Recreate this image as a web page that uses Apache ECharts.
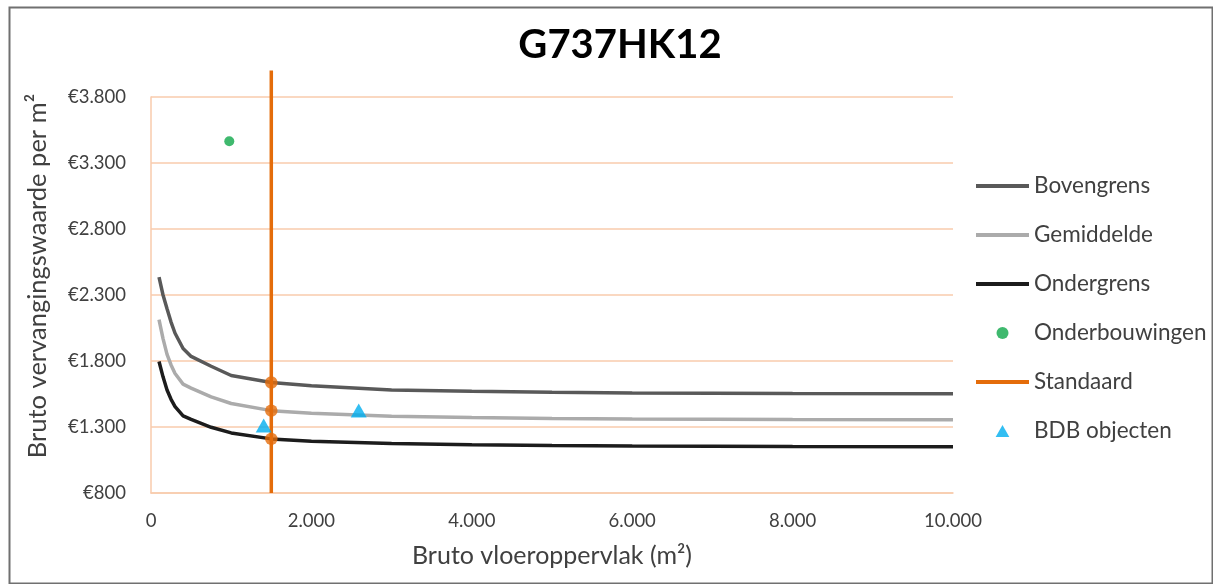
<!DOCTYPE html>
<html>
<head>
<meta charset="utf-8">
<script src="https://cdn.jsdelivr.net/npm/echarts@6/dist/echarts.min.js"></script>
<style>
  html, body { margin: 0; padding: 0; background: #fff; }
  #chart { width: 1213px; height: 584px; }
</style>
</head>
<body>
<div id="chart"></div>
<script>
// Data
const titleText = 'G737HK12';
const xValues = [100, 150, 200, 250, 300, 400, 500, 750, 1000, 1500, 2000, 3000, 4000, 5000, 6000, 8000, 10000];
const bovengrens = [2436, 2300, 2195, 2095, 2010, 1895, 1835, 1760, 1690, 1637, 1612, 1580, 1570, 1563, 1558, 1554, 1551];
const gemiddelde = [2113, 1970, 1850, 1770, 1705, 1625, 1595, 1528, 1478, 1424, 1405, 1382, 1372, 1365, 1360, 1356, 1354];
const ondergrens = [1796, 1680, 1580, 1510, 1455, 1385, 1358, 1298, 1255, 1210, 1192, 1175, 1166, 1160, 1157, 1153, 1151];
const onderbouwingen = [[976, 3465]];
const standaardX = 1500;
const standaardYRange = [800, 4000];
const standaardPunten = [[1500, 1637], [1500, 1424], [1500, 1210]];
const bdbObjecten = [[1405, 1312], [2590, 1425]];
const xTicks = { min: 0, max: 10000, interval: 2000 };
const yTicks = { min: 800, max: 3800, interval: 500 };
const xName = 'Bruto vloeroppervlak (m²)';
const yName = 'Bruto vervangingswaarde per m²';
const legendNames = ['Bovengrens', 'Gemiddelde', 'Ondergrens', 'Onderbouwingen', 'Standaard', 'BDB objecten'];

const FONT = 'Lato';
const TXT = '#404040';
const GRID = '#F8CBAD';
const ORANGE = '#E46C0A';

function dots(v) { return String(v).replace(/\B(?=(\d{3})+(?!\d))/g, '.'); }
function pairs(xs, ys) { return xs.map((x, i) => [x, ys[i]]); }

const lineOnly = { itemStyle: { opacity: 0, color: 'rgba(0,0,0,0)', borderWidth: 0 }, lineStyle: { width: 4 } };
const legendData = legendNames.map(n => {
  if (n === 'Onderbouwingen') return { name: n };
  if (n === 'BDB objecten') return { name: n, icon: 'path://M8,0 L16,14 L0,14 Z' };
  return Object.assign({ name: n }, lineOnly);
});

const chart = echarts.init(document.getElementById('chart'), null, { renderer: 'canvas' });
chart.setOption({
  animation: false,
  backgroundColor: '#fff',
  textStyle: { fontFamily: FONT },
  graphic: [{
    type: 'rect', left: 7, top: 5,
    shape: { width: 1203, height: 576 },
    style: { fill: 'none', stroke: '#707070', lineWidth: 2 },
    silent: true, z: -1
  }],
  title: {
    text: titleText, left: 615, top: 20, textAlign: 'center',
    textStyle: { fontFamily: FONT, fontWeight: 'bold', fontSize: 40, color: '#000' }
  },
  grid: { left: 151, right: 260, top: 97, bottom: 91, containLabel: false },
  legend: {
    orient: 'vertical', left: 969, top: 169,
    itemWidth: 53, itemHeight: 12, itemGap: 25,
    symbolKeepAspect: true,
    lineStyle: { width: 4 },
    textStyle: { fontFamily: FONT, fontSize: 22.5, color: TXT, lineHeight: 24 },
    data: legendData
  },
  xAxis: {
    type: 'value', min: xTicks.min, max: xTicks.max, interval: xTicks.interval,
    name: xName, nameLocation: 'middle', nameGap: 50,
    nameTextStyle: { fontFamily: FONT, fontSize: 25, color: TXT },
    axisLine: { show: true, lineStyle: { color: GRID, width: 1.5 } },
    axisTick: { show: false },
    splitLine: { show: false },
    axisLabel: { fontFamily: FONT, fontSize: 18.5, color: TXT, margin: 19, formatter: v => dots(v) }
  },
  yAxis: {
    type: 'value', min: yTicks.min, max: yTicks.max, interval: yTicks.interval,
    name: yName, nameLocation: 'middle', nameGap: 100, nameRotate: 90,
    nameTextStyle: { fontFamily: FONT, fontSize: 25.5, color: TXT, padding: [0, 0, 0, 38] },
    axisLine: { show: true, lineStyle: { color: GRID, width: 1.5 } },
    axisTick: { show: false },
    splitLine: { show: true, lineStyle: { color: GRID, width: 1.5 } },
    axisLabel: { fontFamily: FONT, fontSize: 18.5, color: TXT, margin: 25, formatter: v => '€' + dots(v) }
  },
  series: [
    { name: 'Bovengrens', type: 'line', data: pairs(xValues, bovengrens), symbol: 'none',
      lineStyle: { color: '#595959', width: 3.5 }, itemStyle: { color: '#595959' }, z: 3 },
    { name: 'Gemiddelde', type: 'line', data: pairs(xValues, gemiddelde), symbol: 'none',
      lineStyle: { color: '#ABABAB', width: 3.5 }, itemStyle: { color: '#ABABAB' }, z: 3 },
    { name: 'Ondergrens', type: 'line', data: pairs(xValues, ondergrens), symbol: 'none',
      lineStyle: { color: '#1C1C1C', width: 3.5 }, itemStyle: { color: '#1C1C1C' }, z: 3 },
    { name: 'Onderbouwingen', type: 'scatter', data: onderbouwingen, symbol: 'circle', symbolSize: 10,
      itemStyle: { color: '#0FA84A' }, z: 5 },
    { name: 'Standaard', type: 'line', data: standaardYRange.map(y => [standaardX, y]), symbol: 'none',
      clip: false, lineStyle: { color: ORANGE, width: 3.5 }, itemStyle: { color: ORANGE }, z: 4 },
    { name: 'Standaard punten', type: 'scatter', data: standaardPunten, symbol: 'circle', symbolSize: 12.5,
      itemStyle: { color: ORANGE }, z: 6 },
    { name: 'BDB objecten', type: 'scatter', data: bdbObjecten, symbol: 'triangle', symbolSize: [16, 14],
      itemStyle: { color: '#00AEEF' }, z: 5 }
  ]
});
</script>
</body>
</html>
